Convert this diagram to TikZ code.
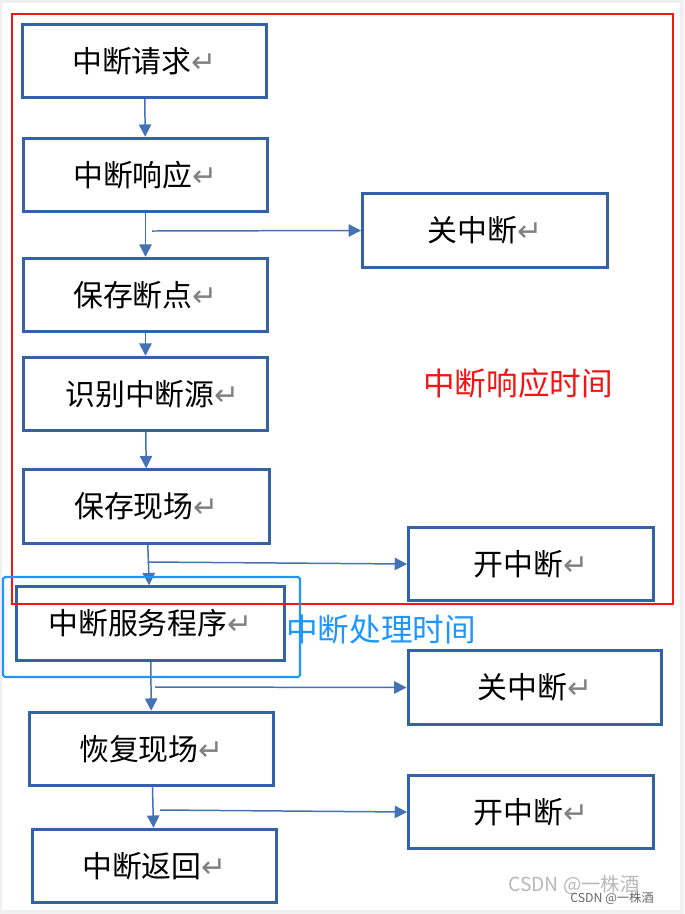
\documentclass[tikz,border=0pt]{standalone}
\usepackage{fontspec}
\usepackage{xcolor}
\usepackage{tikz}
\usetikzlibrary{positioning,calc,arrows.meta}
\newfontfamily\cjk{Noto Sans CJK SC}
\newfontfamily\symfont{DejaVu Sans}
\setmainfont{Noto Sans CJK SC}
\definecolor{boxblue}{RGB}{52,98,165}
\definecolor{arrblue}{RGB}{68,114,180}
\definecolor{markred}{RGB}{245,20,20}
\definecolor{markblue}{RGB}{30,150,255}
\newcommand{\ret}{{\symfont\color{black!50}\fontsize{17}{19}\selectfont\char"21B5}}

\begin{document}
\begin{tikzpicture}[x=0.02cm,y=-0.02cm,
    blk/.style={draw=boxblue,line width=1.7pt,fill=white,minimum width=4.9cm,minimum height=1.47cm,
      inner sep=0pt,font=\cjk\fontsize{17}{20}\selectfont},
    arr/.style={draw=arrblue,line width=0.85pt,-{Triangle[length=7pt,width=7pt]}}]
        \useasboundingbox (0,0) rectangle (684,914);
        \fill[black!6] (0,0) rectangle (684,914);
        \fill[white] (2,3) rectangle (680,910);

        % main chain
        \node[blk] (req) at (144.5,61) {中断请求\ret};
        \node[blk] (resp) at (145.5,175) {中断响应\ret};
        \node[blk] (bp) at (145.5,295) {保存断点\ret};
        \node[blk] (src) at (145.5,394) {\hspace{8pt}识别中断源\ret};
        \node[blk,minimum width=4.94cm] (save) at (146.5,506.5) {保存现场\ret};
        \node[blk,minimum width=5.38cm] (isr) at (150.5,623.5) {中断服务程序\ret};
        \node[blk] (rest) at (151.5,749) {恢复现场\ret};
        \node[blk] (ret) at (154.5,866) {中断返回\ret};

        % side boxes
        \node[blk] (off1) at (485,230.5) {关中断\ret};
        \node[blk] (on1) at (531,564) {开中断\ret};
        \node[blk,minimum width=5.08cm] (off2) at (535,687.5) {关中断\ret};
        \node[blk] (on2) at (531,812) {开中断\ret};

        \draw[arr] (req) -- (resp);
        \draw[arr] (resp) -- (bp);
        \draw[arr] (bp) -- (src);
        \draw[arr] (src) -- (save);
        \draw[arr] (save) -- (isr);
        \draw[arr] (isr) -- (rest);
        \draw[arr] (rest) -- (ret);

        % branches
        \coordinate (br1) at (152,231);
        \coordinate (br2) at (148,562);
        \coordinate (br3) at (155,687);
        \coordinate (br4) at (160,810);
        \draw[arr] (br1) -- (off1.west);
        \draw[arr] (br2) -- (on1.west);
        \draw[arr] (br3) -- (off2.west);
        \draw[arr] (br4) -- (on2.west);

        % marked regions
        \draw[markred,line width=1.5pt] (12,14) rectangle (673,604);
        \node[text=markred,font=\cjk\fontsize{18}{20}\selectfont] (resptime) at (518,383) {中断响应时间};
        \draw[markblue,line width=1.2pt,rounded corners=1pt] (3,577) rectangle (300,677);
        \node[text=markblue,font=\cjk\fontsize{18}{20}\selectfont,anchor=west,inner sep=0pt] (proctime) at (286,630) {中断处理时间};

        % watermark
        \node[text=black!28,font=\cjk\fontsize{11}{13}\selectfont,anchor=west,inner sep=0pt] (wm1) at (508,885) {CSDN @一株酒};
        \node[text=black!60,font=\cjk\fontsize{7}{9}\selectfont,anchor=west,inner sep=0pt] (wm2) at (570,898) {CSDN @一株酒};
    \end{tikzpicture}
\end{document}
